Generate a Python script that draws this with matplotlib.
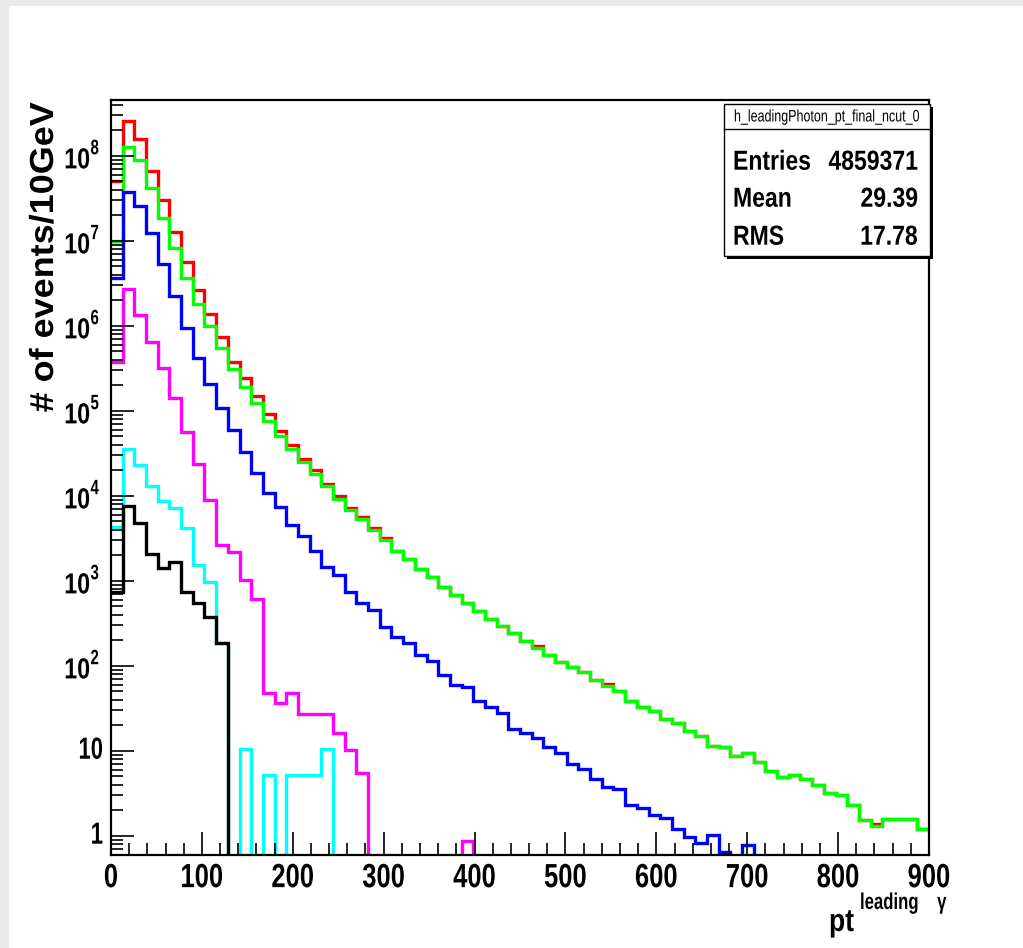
import numpy as np
import matplotlib
matplotlib.use("Agg")
import matplotlib.pyplot as plt
from matplotlib.patches import Rectangle
from matplotlib.patheffects import AbstractPathEffect
from matplotlib.text import Text
from matplotlib.ticker import FixedLocator, LogLocator, NullFormatter
from matplotlib.transforms import Affine2D, blended_transform_factory, offset_copy

# leading photon pt, 70 bins from 0 to 900 GeV
bin_edges = np.linspace(0, 900, 71)

red_counts = [5.0e7, 2.56e8, 1.56e8, 6.67e7, 2.99e7, 1.28e7, 5.66e6, 2.63e6, 1.37e6, 7.3e5,
              3.72e5, 2.40e5, 1.49e5, 9.14e4, 5.82e4, 3.94e4, 2.70e4, 2.00e4, 1.37e4, 9.9e3,
              7200, 5560, 4200, 3200, 2230, 1800, 1370, 1110, 849, 679,
              551, 441, 354, 296, 240, 195, 170, 134, 111, 95.7,
              83.2, 67.6, 61.0, 50.8, 38.5, 32.4, 29.3, 23.4, 21.0, 17.1,
              15.0, 11.5, 11.0, 8.7, 9.3, 7.4, 5.7, 4.9, 5.2, 4.6,
              3.9, 3.2, 3.0, 2.3, 1.53, 1.36, 1.57, 1.57, 1.57, 1.19]

green_counts = [9.8e6, 1.26e8, 8.9e7, 4.13e7, 1.87e7, 8.15e6, 3.67e6, 1.78e6, 1.0e6, 5.42e5,
                3.09e5, 1.91e5, 1.24e5, 7.62e4, 5.04e4, 3.52e4, 2.51e4, 1.79e4, 1.30e4, 9.1e3,
                6790, 5270, 3940, 3010, 2230, 1800, 1370, 1110, 849, 679,
                551, 441, 354, 296, 240, 195, 163, 134, 111, 95.7,
                83.2, 67.6, 58.2, 50.8, 38.5, 32.4, 29.3, 23.4, 21.0, 17.1,
                15.0, 11.5, 11.0, 8.7, 9.3, 7.4, 5.7, 4.9, 5.2, 4.6,
                3.9, 3.2, 3.0, 2.3, 1.53, 1.30, 1.57, 1.57, 1.57, 1.19]

blue_counts = [3.67e6, 3.77e7, 2.56e7, 1.22e7, 5.27e6, 2.24e6, 9.5e5, 4.13e5, 2.07e5, 1.07e5,
               5.93e4, 3.30e4, 1.87e4, 1.08e4, 7430, 4520, 3390, 2230, 1460, 1170,
               729, 551, 447, 286, 216, 187, 134, 115, 77.8, 59.3,
               56.6, 38.7, 33.0, 28.0, 17.9, 16.3, 14.0, 11.0, 9.5, 7.0,
               6.1, 4.6, 3.7, 3.5, 2.3, 2.1, 1.75, 1.63, 1.19, 0.96,
               0.83, 1.02, 0.64, 0, 0.78] + [0] * 15

magenta_counts = [3.77e5, 2.68e6, 1.34e6, 6.49e5, 3.16e5, 1.40e5, 5.57e4, 2.33e4, 8900, 2660,
                  2160, 1010, 610, 47.3, 36.1, 47.3, 26.8, 26.8, 26.8, 16.3,
                  10.2, 5.4, 0, 0, 0, 0, 0, 0, 0, 0,
                  0.87] + [0] * 39

cyan_counts = [4300, 3.55e4, 2.30e4, 1.31e4, 8700, 7100, 4130, 1510, 955, 183,
               0, 10.5, 0, 5.2, 0, 5.2, 5.2, 5.2, 10.5] + [0] * 51

black_counts = [733, 7620, 4810, 2060, 1420, 1640, 733, 551, 377, 183] + [0] * 60

stats_title = "h_leadingPhoton_pt_final_ncut_0"
stats_rows = [("Entries", "4859371"), ("Mean", "29.39"), ("RMS", "17.78")]

x_ticks = [0, 100, 200, 300, 400, 500, 600, 700, 800, 900]
y_exponents = [0, 1, 2, 3, 4, 5, 6, 7, 8]

FONT = "Liberation Sans"
W, H = 1023, 948


class Squeeze(AbstractPathEffect):
    """Rescale a text's glyphs around its anchor point."""

    def __init__(self, text, sx, sy=1.0):
        super().__init__()
        self.text = text
        self.sx = sx
        self.sy = sy

    def draw_path(self, renderer, gc, tpath, affine, rgbFace=None):
        t = self.text
        x0, y0 = t.get_transform().transform(t.get_unitless_position())
        scale = Affine2D().translate(-x0, -y0).scale(self.sx, self.sy).translate(x0, y0)
        renderer.draw_path(gc, tpath, affine + scale, rgbFace)


def fx(px):
    return px / W


def fy(py):
    return 1 - py / H


fig = plt.figure(figsize=(W / 100, H / 100), dpi=100)
fig.patch.set_facecolor("#e9e9e9")
fig.add_artist(Rectangle((9 / W, 0), 1, 1 - 6 / H, transform=fig.transFigure,
                         facecolor="white", edgecolor="none", zorder=-5))


def ntext(x, y, s, sx, sy=1.0, transform=None, **kw):
    t = Text(x, y, s, transform=transform or fig.transFigure, **kw)
    t.set_path_effects([Squeeze(t, sx, sy)])
    fig.add_artist(t)
    return t


ax = fig.add_axes([fx(111), fy(855), (929 - 111) / W, (855 - 100) / H])
ax.set_yscale("log", nonpositive="clip")

for counts, col in [(red_counts, "#ff0000"), (green_counts, "#00ff00"),
                    (blue_counts, "#0000ff"), (magenta_counts, "#ff00ff"),
                    (cyan_counts, "#00ffff"), (black_counts, "black")]:
    ax.stairs(counts, bin_edges, baseline=None, color=col, lw=2.4,
              joinstyle="miter")

ax.set_xlim(0, 900)
ax.set_ylim(0.593, 4.52e8)

for s in ax.spines.values():
    s.set_linewidth(1.6)

ax.xaxis.set_major_locator(FixedLocator(x_ticks))
ax.xaxis.set_minor_locator(FixedLocator(np.arange(0, 901, 20)))
ax.yaxis.set_major_locator(FixedLocator([10.0 ** e for e in y_exponents]))
ax.yaxis.set_minor_locator(LogLocator(base=10, subs=np.arange(2, 10), numticks=30))
ax.xaxis.set_major_formatter(NullFormatter())
ax.yaxis.set_major_formatter(NullFormatter())
ax.yaxis.set_minor_formatter(NullFormatter())
ax.tick_params(which="major", direction="in", length=16.5, width=1.2,
               top=False, right=False)
ax.tick_params(which="minor", direction="in", length=8.5, width=1.2,
               top=False, right=False)

# tick labels, drawn narrow
xtrans = blended_transform_factory(ax.transData, fig.transFigure)
for t in x_ticks:
    ntext(t, fy(863), str(t), 0.8, 1.05, transform=xtrans, ha="center",
          va="top", fontfamily=FONT, fontweight="bold", fontsize=23)

ytrans = blended_transform_factory(fig.transFigure, ax.transData)
for e in y_exponents:
    v = 10.0 ** e
    if e < 2:
        ntext(fx(103), v, str(int(v)), 0.72, transform=ytrans, ha="right",
              va="center", fontfamily=FONT, fontweight="bold", fontsize=22)
    else:
        base = offset_copy(ytrans, fig=fig, y=-5, units="dots")
        sup = offset_copy(ytrans, fig=fig, y=7, units="dots")
        ntext(fx(90), v, "10", 0.88, 1.1, transform=base, ha="right",
              va="center", fontfamily=FONT, fontweight="bold", fontsize=19)
        ntext(fx(90.5), v, str(e), 0.72, transform=sup, ha="left", va="center",
              fontfamily=FONT, fontweight="bold", fontsize=15)

# axis titles
ntext(fx(44.5), fy(257), "# of events/10GeV", 1.0, 1.08, rotation=90,
      ha="center", va="center", fontfamily=FONT, fontweight="bold",
      fontsize=24)
ntext(fx(829), fy(931), "pt", 0.83, ha="left", va="baseline",
      fontfamily=FONT, fontweight="bold", fontsize=23)
ntext(fx(860), fy(909), "leading    \u03b3", 0.73, ha="left", va="baseline",
      fontfamily=FONT, fontweight="bold", fontsize=16.5)

# statistics box with shadow
bx0, by0, bx1, by1 = 724, 104, 930, 256
fig.add_artist(Rectangle((fx(bx0 + 3), fy(by1 + 3)), (bx1 - bx0) / W,
                         (by1 - by0) / H, transform=fig.transFigure,
                         facecolor="black", edgecolor="none", zorder=5))
fig.add_artist(Rectangle((fx(bx0), fy(by1)), (bx1 - bx0) / W, (by1 - by0) / H,
                         transform=fig.transFigure, facecolor="white",
                         edgecolor="black", lw=1.0, zorder=6))
fig.add_artist(plt.Line2D([fx(bx0), fx(bx1)], [fy(129), fy(129)],
                          transform=fig.transFigure, color="black", lw=1.0,
                          zorder=7))
ntext(fx((bx0 + bx1) / 2), fy(117), stats_title, 0.75, ha="center",
      va="center", fontfamily=FONT, fontsize=12, zorder=8)
for (label, value), yc in zip(stats_rows, [162, 199, 237]):
    ntext(fx(733), fy(yc), label, 0.92, 1.1, ha="left", va="center",
          fontfamily=FONT, fontweight="bold", fontsize=18, zorder=8)
    ntext(fx(918), fy(yc), value, 0.92, 1.1, ha="right", va="center",
          fontfamily=FONT, fontweight="bold", fontsize=18, zorder=8)

fig.savefig("out.png", dpi=100, facecolor=fig.get_facecolor())
